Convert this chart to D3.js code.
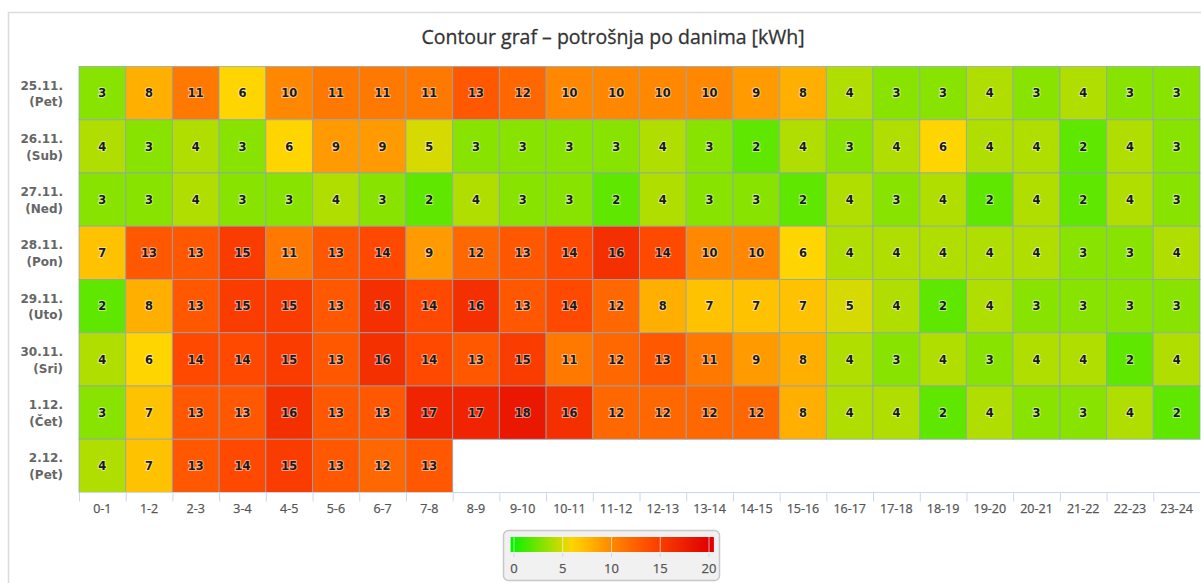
<!DOCTYPE html>
<html>
<head>
<meta charset="utf-8">
<script src="https://cdn.jsdelivr.net/npm/d3@7/dist/d3.min.js"></script>
<style>
  body { margin: 0; background: #fff; }
  svg { display: block; font-family: "Open Sans", "DejaVu Sans", sans-serif; }
</style>
</head>
<body>
<div id="chart"></div>
<script>
(function () {

    "use strict";

    var days = ["25.11.", "26.11.", "27.11.", "28.11.", "29.11.", "30.11.", "1.12.", "2.12."];
    var dayNames = ["(Pet)", "(Sub)", "(Ned)", "(Pon)", "(Uto)", "(Sri)", "(Čet)", "(Pet)"];
    var hours = ["0-1", "1-2", "2-3", "3-4", "4-5", "5-6", "6-7", "7-8", "8-9", "9-10", "10-11", "11-12",
                 "12-13", "13-14", "14-15", "15-16", "16-17", "17-18", "18-19", "19-20", "20-21", "21-22", "22-23", "23-24"];

    var row0 = [3, 8, 11, 6, 10, 11, 11, 11, 13, 12, 10, 10, 10, 10, 9, 8, 4, 3, 3, 4, 3, 4, 3, 3];
    var row1 = [4, 3, 4, 3, 6, 9, 9, 5, 3, 3, 3, 3, 4, 3, 2, 4, 3, 4, 6, 4, 4, 2, 4, 3];
    var row2 = [3, 3, 4, 3, 3, 4, 3, 2, 4, 3, 3, 2, 4, 3, 3, 2, 4, 3, 4, 2, 4, 2, 4, 3];
    var row3 = [7, 13, 13, 15, 11, 13, 14, 9, 12, 13, 14, 16, 14, 10, 10, 6, 4, 4, 4, 4, 4, 3, 3, 4];
    var row4 = [2, 8, 13, 15, 15, 13, 16, 14, 16, 13, 14, 12, 8, 7, 7, 7, 5, 4, 2, 4, 3, 3, 3, 3];
    var row5 = [4, 6, 14, 14, 15, 13, 16, 14, 13, 15, 11, 12, 13, 11, 9, 8, 4, 3, 4, 3, 4, 4, 2, 4];
    var row6 = [3, 7, 13, 13, 16, 13, 13, 17, 17, 18, 16, 12, 12, 12, 12, 8, 4, 4, 2, 4, 3, 3, 4, 2];
    var row7 = [4, 7, 13, 14, 15, 13, 12, 13];
    var rows = [row0, row1, row2, row3, row4, row5, row6, row7];

    var legendTicks = [0, 5, 10, 15, 20];

    var W = 1201, H = 583;
    var left = 79, right = 1200, top = 66.5, bottom = 492.5;

    var svg = d3.select("#chart").append("svg")
        .attr("width", W)
        .attr("height", H);

    // outer frame
    svg.append("rect")
        .attr("x", 8.5).attr("y", 12.5)
        .attr("width", W + 20).attr("height", H + 20)
        .attr("fill", "#fff")
        .attr("stroke", "#dcdcdc")
        .attr("stroke-width", 1.5);

    svg.append("text")
        .attr("x", 613).attr("y", 44)
        .attr("text-anchor", "middle")
        .style("font-size", "19.5px")
        .style("fill", "#333")
        .style("stroke", "#333")
        .style("stroke-width", "0.3px")
        .text("Contour graf – potrošnja po danima [kWh]");

    var x = d3.scaleBand().domain(hours).range([left, right]);
    var y = d3.scaleBand().domain(days.map(function (d, i) { return i; })).range([top, bottom]);

    var color = d3.scaleLinear()
        .domain([0, 6, 10, 14, 20])
        .range(["#10f000", "#ffd500", "#ff8800", "#ff4800", "#e00000"])
        .interpolate(d3.interpolateRgb);

    var cells = [];
    rows.forEach(function (r, i) {
        r.forEach(function (v, j) {
            cells.push({ row: i, col: hours[j], value: v });
        });
    });

    var cell = svg.append("g").selectAll("g")
        .data(cells)
        .enter()
        .append("g");

    cell.append("rect")
        .attr("x", function (d) { return x(d.col); })
        .attr("y", function (d) { return y(d.row); })
        .attr("width", x.bandwidth())
        .attr("height", y.bandwidth())
        .attr("fill", function (d) { return color(d.value); })
        .attr("stroke", "rgba(140,165,185,0.75)")
        .attr("stroke-width", 1);

    cell.append("text")
        .attr("x", function (d) { return x(d.col) + x.bandwidth() / 2; })
        .attr("y", function (d) { return y(d.row) + y.bandwidth() / 2; })
        .attr("dy", "0.36em")
        .attr("text-anchor", "middle")
        .style("font-family", "'DejaVu Sans', sans-serif")
        .style("font-size", "11.5px")
        .style("font-weight", "bold")
        .style("fill", "#1a1a1a")
        .style("stroke", "rgba(255,255,255,0.5)")
        .style("stroke-width", "2px")
        .style("paint-order", "stroke")
        .text(function (d) { return d.value; });

    // x axis
    var xAxis = svg.append("g").attr("transform", "translate(0," + bottom + ")");
    xAxis.append("line")
        .attr("x1", left).attr("x2", right)
        .attr("stroke", "#ccd6eb");
    xAxis.selectAll("line.tick")
        .data(hours)
        .enter()
        .append("line")
        .attr("class", "tick")
        .attr("x1", function (d) { return x(d) + 0.5; })
        .attr("x2", function (d) { return x(d) + 0.5; })
        .attr("y1", 0).attr("y2", 9)
        .attr("stroke", "#ccd6eb");
    xAxis.selectAll("text")
        .data(hours)
        .enter()
        .append("text")
        .attr("x", function (d) { return x(d) + x.bandwidth() / 2; })
        .attr("y", 20)
        .attr("text-anchor", "middle")
        .style("font-size", "12.5px")
        .style("fill", "#555")
        .style("stroke", "#555")
        .style("stroke-width", "0.25px")
        .text(function (d) { return d; });

    // y axis
    var yAxis = svg.append("g");
    var yl = yAxis.selectAll("text")
        .data(days)
        .enter()
        .append("text")
        .attr("text-anchor", "end")
        .attr("x", 63)
        .attr("y", function (d, i) { return y(i) + y.bandwidth() / 2; })
        .style("font-family", "'DejaVu Sans', sans-serif")
        .style("font-size", "12px")
        .style("font-weight", "bold")
        .style("fill", "#666");
    yl.append("tspan").attr("x", 63).attr("dy", "-0.3em").text(function (d) { return d; });
    yl.append("tspan").attr("x", 63).attr("dy", "1.4em").text(function (d, i) { return dayNames[i]; });

    // legend
    var lx = d3.scaleLinear().domain([0, 20]).range([514, 709]);
    var legend = svg.append("g");
    legend.append("rect")
        .attr("x", 503.5).attr("y", 530.5)
        .attr("width", 216).attr("height", 50)
        .attr("rx", 5)
        .attr("fill", "#f1f1f1")
        .attr("stroke", "#c8c8c8")
        .attr("stroke-width", 1.5);

    var grad = svg.append("defs").append("linearGradient")
        .attr("id", "lg")
        .attr("x1", "0%").attr("x2", "100%");
    var g0 = -0.35, g1 = 20.5;
    d3.range(0, 21).forEach(function (i) {
        var v = g0 + (g1 - g0) * i / 20;
        grad.append("stop")
            .attr("offset", (i * 5) + "%")
            .attr("stop-color", color(v));
    });
    legend.append("rect")
        .attr("x", lx(g0)).attr("y", 537)
        .attr("width", lx(g1) - lx(g0)).attr("height", 15)
        .attr("fill", "url(#lg)");

    legend.selectAll("line.grid")
        .data(legendTicks)
        .enter()
        .append("line")
        .attr("class", "grid")
        .attr("x1", function (d) { return lx(d); })
        .attr("x2", function (d) { return lx(d); })
        .attr("y1", 537).attr("y2", 552)
        .attr("stroke", "rgba(255,255,255,0.6)");
    legend.selectAll("line.tk")
        .data(legendTicks)
        .enter()
        .append("line")
        .attr("class", "tk")
        .attr("x1", function (d) { return lx(d); })
        .attr("x2", function (d) { return lx(d); })
        .attr("y1", 553).attr("y2", 557)
        .attr("stroke", "#ccd6eb");
    legend.selectAll("text")
        .data(legendTicks)
        .enter()
        .append("text")
        .attr("x", function (d) { return lx(d); })
        .attr("y", 573)
        .attr("text-anchor", "middle")
        .style("font-size", "13px")
        .style("fill", "#555")
        .style("stroke", "#555")
        .style("stroke-width", "0.25px")
        .text(function (d) { return d; });

})();
</script>
</body>
</html>
